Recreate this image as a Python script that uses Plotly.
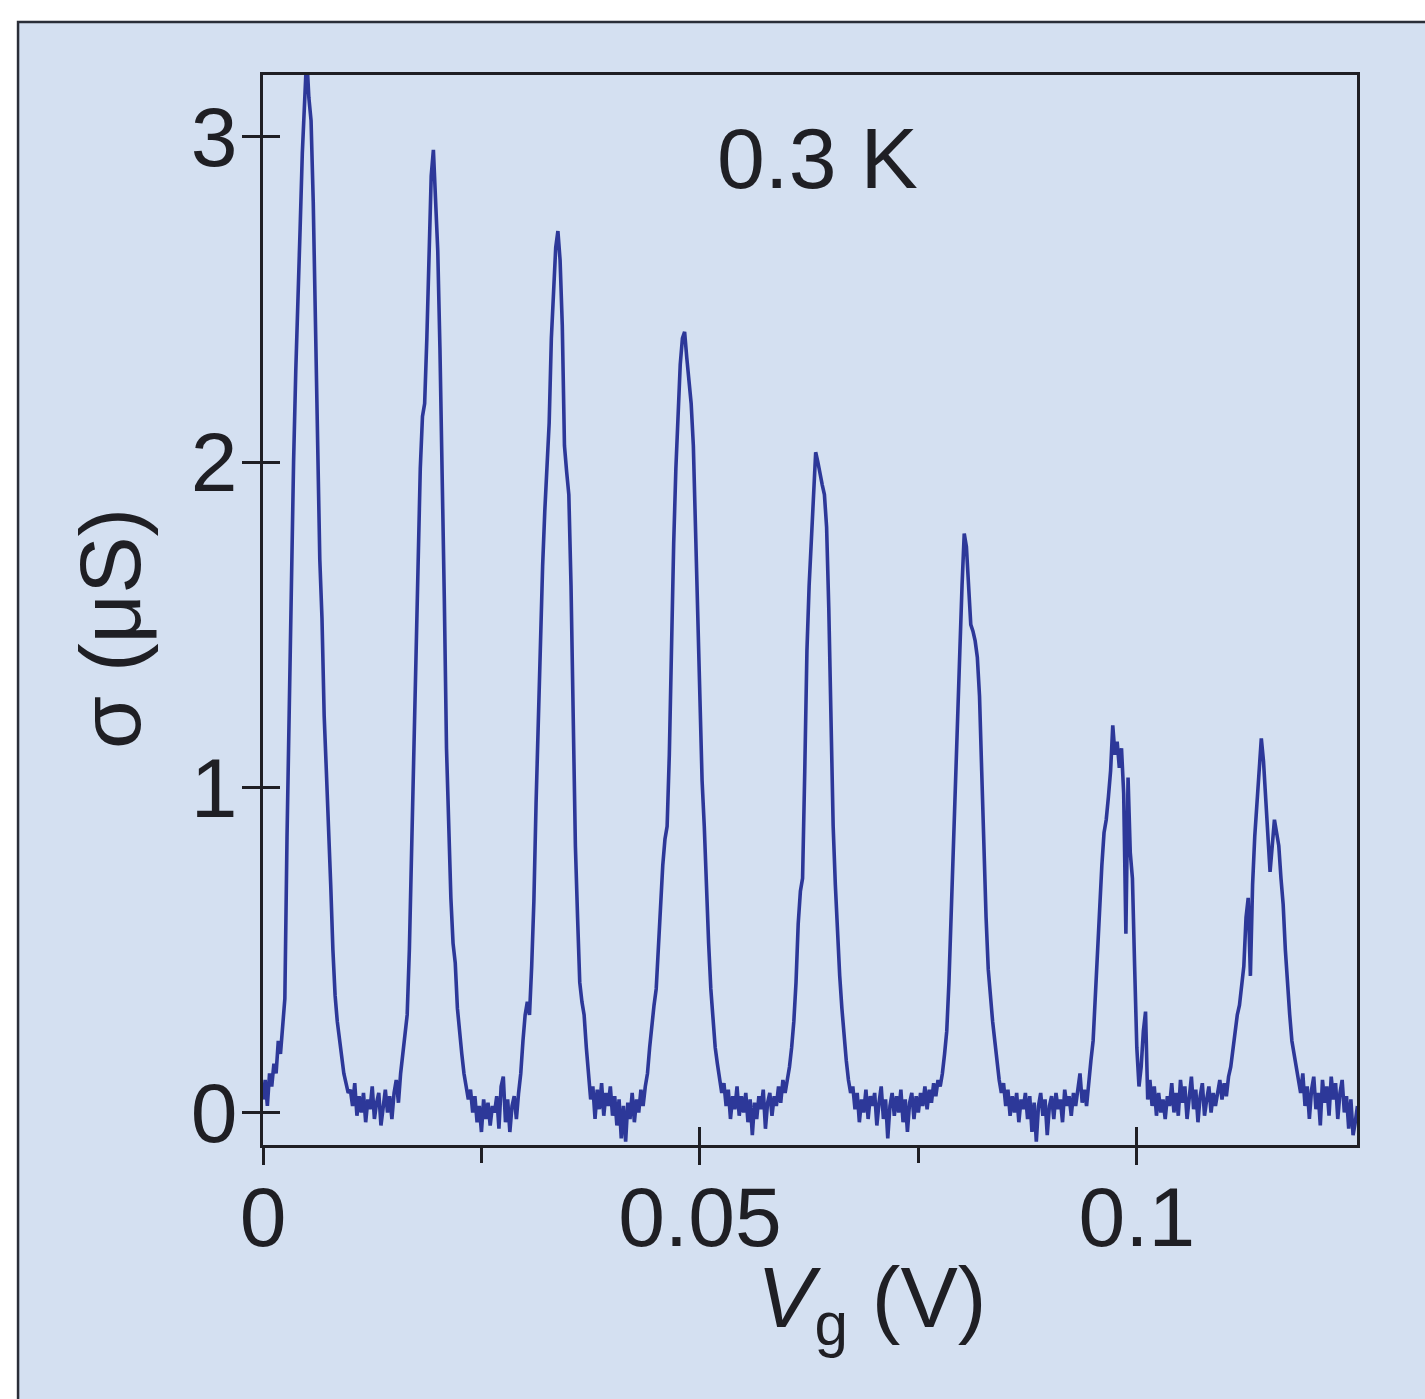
import plotly.graph_objects as go

# Gate-voltage sweep: uniformly sampled, start and step (V)
VG_START = 0.0
VG_STEP = 0.00025

# Conductance sigma (uS), one value per sample
sigma = [
    # 0.0000 - 0.00475
    0.04, 0.10, 0.02, 0.12, 0.08, 0.15, 0.12, 0.22, 0.18, 0.28,
    0.35, 0.85, 1.25, 1.62, 2.00, 2.28, 2.55, 2.72, 2.95, 3.08,
    # 0.0050 - 0.00975
    3.25, 3.12, 3.05, 2.80, 2.45, 2.05, 1.70, 1.52, 1.22, 1.05,
    0.90, 0.70, 0.50, 0.36, 0.28, 0.22, 0.17, 0.12, 0.09, 0.06,
    # 0.0100 - 0.01475
    0.07, 0.02, 0.09, -0.01, 0.05, 0.00, 0.06, -0.03, 0.04, 0.01,
    0.08, -0.02, 0.03, 0.06, -0.04, 0.02, 0.07, 0.00, 0.05, -0.02,
    # 0.0150 - 0.01975
    0.06, 0.10, 0.03, 0.12, 0.18, 0.22, 0.30, 0.50, 0.78, 1.05,
    1.32, 1.60, 1.98, 2.14, 2.18, 2.38, 2.68, 2.88, 2.96, 2.80,
    # 0.0200 - 0.02475
    2.65, 2.35, 2.00, 1.58, 1.12, 0.88, 0.66, 0.52, 0.46, 0.32,
    0.24, 0.18, 0.12, 0.08, 0.04, 0.07, 0.00, 0.05, -0.03, 0.02,
    # 0.0250 - 0.02975
    -0.06, 0.04, -0.02, 0.03, -0.04, 0.02, 0.00, 0.05, -0.05, 0.08,
    0.11, -0.03, 0.04, -0.06, 0.02, 0.05, -0.02, 0.06, 0.12, 0.22,
    # 0.0300 - 0.03475
    0.30, 0.34, 0.30, 0.45, 0.65, 0.95, 1.22, 1.45, 1.68, 1.85,
    1.98, 2.12, 2.38, 2.55, 2.66, 2.71, 2.62, 2.42, 2.05, 1.97,
    # 0.0350 - 0.03975
    1.90, 1.62, 1.15, 0.82, 0.60, 0.40, 0.34, 0.30, 0.20, 0.10,
    0.04, 0.08, -0.02, 0.07, 0.01, 0.09, -0.01, 0.06, 0.02, 0.08,
    # 0.0400 - 0.04475
    -0.01, 0.05, -0.04, 0.04, -0.08, 0.02, -0.09, 0.03, -0.02, 0.06,
    -0.03, 0.04, 0.00, 0.07, 0.02, 0.08, 0.12, 0.20, 0.28, 0.33,
    # 0.0450 - 0.04975
    0.38, 0.50, 0.65, 0.76, 0.84, 0.88, 1.10, 1.45, 1.75, 1.98,
    2.15, 2.30, 2.38, 2.40, 2.32, 2.25, 2.18, 2.05, 1.80, 1.50,
    # 0.0500 - 0.05475
    1.25, 1.02, 0.88, 0.68, 0.52, 0.38, 0.28, 0.20, 0.15, 0.10,
    0.06, 0.09, 0.02, 0.07, -0.02, 0.05, 0.01, 0.08, -0.01, 0.05,
    # 0.0550 - 0.05975
    0.00, 0.06, -0.03, 0.04, -0.07, 0.03, -0.02, 0.05, 0.01, 0.07,
    -0.05, 0.03, 0.06, -0.01, 0.05, 0.02, 0.08, 0.03, 0.10, 0.06,
    # 0.0600 - 0.06475
    0.10, 0.14, 0.20, 0.28, 0.40, 0.58, 0.68, 0.72, 1.05, 1.42,
    1.62, 1.74, 1.90, 2.03, 2.00, 1.96, 1.93, 1.90, 1.80, 1.55,
    # 0.0650 - 0.06975
    1.15, 0.88, 0.70, 0.55, 0.42, 0.32, 0.22, 0.16, 0.10, 0.06,
    0.08, 0.01, 0.06, -0.03, 0.04, 0.00, 0.07, -0.02, 0.05, 0.02,
    # 0.0700 - 0.07475
    0.06, -0.04, 0.03, 0.08, -0.02, 0.04, -0.08, 0.02, 0.06, -0.01,
    0.05, 0.00, 0.07, -0.03, 0.04, -0.06, 0.03, 0.06, -0.02, 0.05,
    # 0.0750 - 0.07975
    0.00, 0.06, 0.02, 0.08, 0.01, 0.07, 0.03, 0.09, 0.05, 0.10,
    0.08, 0.12, 0.18, 0.25, 0.40, 0.62, 0.80, 1.00, 1.22, 1.42,
    # 0.0800 - 0.08475
    1.62, 1.78, 1.74, 1.60, 1.50, 1.48, 1.45, 1.40, 1.28, 1.05,
    0.80, 0.60, 0.44, 0.34, 0.28, 0.22, 0.15, 0.10, 0.06, 0.09,
    # 0.0850 - 0.08975
    0.02, 0.07, -0.01, 0.05, 0.00, 0.06, -0.03, 0.04, 0.01, 0.06,
    -0.02, 0.05, -0.06, 0.03, -0.09, 0.02, 0.06, -0.01, 0.04, -0.07,
    # 0.0900 - 0.09475
    0.02, 0.05, -0.02, 0.06, 0.01, 0.04, -0.03, 0.07, 0.02, 0.05,
    -0.01, 0.06, 0.02, 0.08, 0.12, 0.03, 0.07, 0.02, 0.10, 0.16,
    # 0.0950 - 0.09975
    0.22, 0.36, 0.52, 0.62, 0.76, 0.86, 0.90, 0.97, 1.05, 1.19,
    1.10, 1.14, 1.06, 1.12, 0.98, 0.55, 1.03, 0.80, 0.72, 0.45,
    # 0.1000 - 0.10475
    0.20, 0.08, 0.14, 0.25, 0.31, 0.04, 0.10, 0.02, 0.08, -0.01,
    0.06, 0.00, 0.04, -0.02, 0.05, 0.02, 0.09, 0.00, 0.06, -0.01,
    # 0.1050 - 0.10975
    0.10, 0.03, 0.08, -0.02, 0.06, 0.11, 0.01, 0.07, -0.03, 0.05,
    0.09, -0.01, 0.04, 0.08, 0.00, 0.06, 0.02, 0.07, 0.10, 0.04,
    # 0.1100 - 0.11475
    0.09, 0.05, 0.11, 0.14, 0.20, 0.24, 0.30, 0.33, 0.38, 0.45,
    0.60, 0.66, 0.42, 0.70, 0.85, 0.95, 1.08, 1.15, 1.08, 0.98,
    # 0.1150 - 0.11975
    0.85, 0.74, 0.82, 0.90, 0.86, 0.82, 0.72, 0.64, 0.50, 0.38,
    0.30, 0.22, 0.18, 0.14, 0.10, 0.06, 0.12, 0.02, 0.08, -0.02,
    # 0.1200 - 0.12525
    0.07, 0.11, 0.01, 0.06, -0.04, 0.10, 0.03, 0.08, -0.01, 0.11,
    0.04, 0.09, -0.02, 0.06, 0.10, 0.00, 0.05, -0.05, 0.04, -0.07,
    -0.03, 0.02,
]
vg = [VG_START + i * VG_STEP for i in range(len(sigma))]

# Axis settings (data units)
X_RANGE = [0.0, 0.1252]
Y_RANGE = [-0.10, 3.19]
X_MAJOR = [0.0, 0.05, 0.1]
X_MAJOR_TEXT = ["0", "0.05", "0.1"]
X_MINOR = [0.025, 0.075]
Y_TICKS = [0, 1, 2, 3]
Y_TICKTEXT = ["0", "1", "2", "3"]

LINE_COLOR = "#2d3899"
PANEL_BG = "#d4e0f1"
INK = "#1f1f24"
FONT = "Liberation Sans, Arial, Helvetica, sans-serif"
TICK_SIZE = 84
TITLE_SIZE = 86

fig = go.Figure()
fig.add_trace(go.Scatter(
    x=vg, y=sigma, mode="lines",
    line=dict(color=LINE_COLOR, width=3.6),
    hoverinfo="skip", showlegend=False,
    xaxis="x", yaxis="y",
))
# invisible copy on the overlay axes (carries the inner half of the crossing ticks)
fig.add_trace(go.Scatter(
    x=vg, y=sigma, mode="lines", opacity=0,
    line=dict(width=0), hoverinfo="skip", showlegend=False,
    xaxis="x2", yaxis="y2",
))

fig.update_layout(
    width=1425, height=1399,
    margin=dict(l=263, r=68, t=75, b=254),
    paper_bgcolor="white",
    plot_bgcolor="rgba(0,0,0,0)",
    font=dict(family=FONT, color=INK, size=TICK_SIZE),
    xaxis=dict(
        range=X_RANGE, tickmode="array", tickvals=X_MAJOR, ticktext=X_MAJOR_TEXT,
        ticks="outside", ticklen=17, tickwidth=2.5, tickcolor=INK,
        minor=dict(tickmode="array", tickvals=X_MINOR, ticks="outside",
                   ticklen=15, tickwidth=2.5, tickcolor=INK, showgrid=False),
        ticklabelstandoff=-20,
        showline=True, linecolor=INK, linewidth=2.5, mirror=True,
        showgrid=False, zeroline=False,
        tickfont=dict(size=TICK_SIZE, family=FONT, color=INK),
    ),
    yaxis=dict(
        range=Y_RANGE, tickmode="array", tickvals=Y_TICKS, ticktext=Y_TICKTEXT,
        ticks="outside", ticklen=18, tickwidth=2.5, tickcolor=INK,
        ticklabelstandoff=-12,
        showline=True, linecolor=INK, linewidth=2.5, mirror=True,
        showgrid=False, zeroline=False,
        tickfont=dict(size=TICK_SIZE, family=FONT, color=INK),
    ),
    xaxis2=dict(
        range=X_RANGE, overlaying="x", anchor="y2", side="bottom",
        tickmode="array", tickvals=X_MAJOR, ticks="inside", ticklen=18,
        tickwidth=2.5, tickcolor=INK, showticklabels=False,
        showline=False, showgrid=False, zeroline=False,
    ),
    yaxis2=dict(
        range=Y_RANGE, overlaying="y", anchor="x2", side="left",
        tickmode="array", tickvals=Y_TICKS, ticks="inside", ticklen=17,
        tickwidth=2.5, tickcolor=INK, showticklabels=False,
        showline=False, showgrid=False, zeroline=False,
    ),
    shapes=[
        dict(type="rect", xref="paper", yref="paper",
             x0=-0.2239, x1=1.08, y0=-0.26, y1=1.0495,
             fillcolor=PANEL_BG, line=dict(color="#2a2e38", width=2.5),
             layer="below"),
    ],
    annotations=[
        dict(text="0.3 K", xref="paper", yref="paper", x=0.507, y=0.922,
             xanchor="center", yanchor="middle", showarrow=False,
             font=dict(size=TITLE_SIZE, family=FONT, color=INK)),
        dict(text="<i>V</i><sub>g</sub> (V)", xref="paper", yref="paper",
             x=0.556, y=-0.148, xanchor="center", yanchor="middle",
             showarrow=False, font=dict(size=TITLE_SIZE, family=FONT, color=INK)),
        dict(text="σ (μS)", xref="paper", yref="paper", x=-0.140, y=0.483,
             xanchor="center", yanchor="middle", textangle=-90,
             showarrow=False, font=dict(size=TITLE_SIZE, family=FONT, color=INK)),
    ],
)

fig.write_html(
    "out.html",
    config={"displayModeBar": False},
    post_script="document.body.style.margin='0';document.body.style.overflow='hidden';",
)
